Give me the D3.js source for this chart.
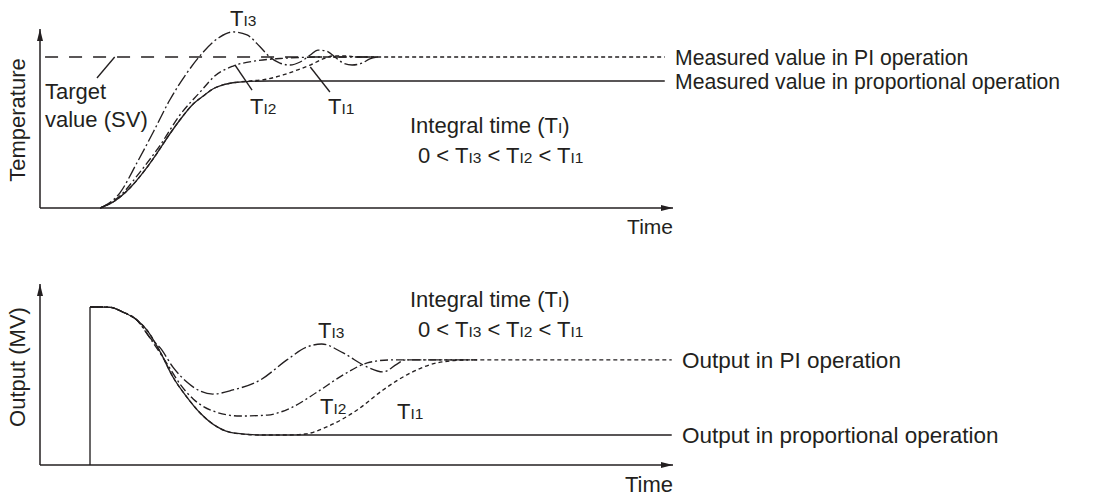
<!DOCTYPE html>
<html><head><meta charset="utf-8">
<script src="https://cdn.jsdelivr.net/npm/d3@7"></script>
<style>
body{margin:0;background:#fff;}
text{font-family:"Liberation Sans",Arial,Helvetica,sans-serif;fill:#231f20;}
</style>
</head><body>
<svg id="c" width="1101" height="497"></svg>
<script>
// ---------------- DATA (time in arbitrary units 0..100) ----------------
const setpoint = 100;            // target value (SV) on temperature scale
const svLineRange = [0.8, 52.9]; // time span of dashed SV line
// Temperature, proportional operation
const tempProp = [[9.5,0],[11.8,4.6],[14.2,13.2],[16.6,25.2],[18.5,36.4],[20.5,49.0],[22.1,58.3],[24.2,68.9],[25.8,74.2],[27.3,78.8],[28.9,81.5],[30.8,83.1],[33.2,83.9],[36.3,84.1],[98.7,84.1]];
// Temperature, PI operation with integral times TI1 > TI2 > TI3
const tempTI1 = [[9.5,0],[11.8,4.6],[14.2,13.2],[16.6,25.2],[18.5,36.4],[20.5,49.0],[22.1,58.3],[24.2,68.9],[25.8,74.2],[27.3,78.8],[28.9,81.5],[30.8,83.1],[33.2,84.1],[35.5,85.1],[38.4,88.1],[41.1,92.1],[42.7,94.7],[44.7,98.7],[46.3,100.7],[48.2,100.7],[50.2,100],[98.7,100]];
const tempTI2 = [[9.5,0],[12.6,7.9],[15.8,23.8],[19.0,41.7],[22.1,61.6],[25.3,76.8],[27.6,87.4],[30.5,94.0],[34.0,97.4],[37.9,99.0],[41.1,99.7],[44.2,100],[53.4,100]];
const tempTI3 = [[9.5,0],[12.6,9.9],[15.3,29.8],[17.9,50.3],[20.5,71.5],[23.2,89.4],[25.8,103.3],[28.4,113.2],[30.5,116.6],[32.7,114.6],[34.8,106.6],[36.3,100],[37.9,96.0],[39.5,94.7],[41.1,96.7],[42.7,101.3],[43.9,104.6],[45.2,104.0],[46.6,100],[47.9,96.0],[49.3,94.7],[50.9,96.0],[52.1,98.7],[53.4,100]];
// Output (MV)
const outStepTime = 7.9;
const outProp = [[7.9,100],[9.5,100],[11.1,99.8],[13.1,96.8],[15.3,91.8],[16.9,85.4],[19.0,71.5],[21.0,55.7],[23.2,43.0],[25.3,32.9],[28.0,24.1],[30.5,20.3],[34.8,19.0],[99.8,19.0]];
const outTI1 = [[7.9,100],[9.5,100],[11.1,99.8],[13.1,96.8],[15.3,91.8],[16.9,85.4],[19.0,71.5],[21.0,55.7],[23.2,43.0],[25.3,32.9],[28.0,24.1],[30.5,20.3],[34.8,19.0],[39.5,19.0],[41.9,19.6],[45.3,24.1],[50.1,34.8],[54.2,47.5],[58.5,58.2],[62.7,64.6],[67.5,66.5],[99.8,66.5]];
const outTI2 = [[7.9,100],[9.5,100],[11.1,99.8],[13.1,96.8],[15.3,91.8],[17.9,77.2],[20.1,63.9],[22.1,51.3],[24.2,41.8],[27.3,34.2],[31.6,31.0],[35.9,31.6],[39.6,36.1],[43.8,46.2],[47.9,57.0],[51.7,64.6],[55.3,66.5],[69.0,66.5]];
const outTI3 = [[7.9,100],[9.5,100],[11.1,99.8],[13.1,96.8],[15.3,91.8],[17.4,80.4],[19.0,74.1],[21.0,62.0],[23.2,52.5],[25.3,46.8],[27.3,44.9],[30.5,47.5],[34.8,53.8],[39.0,66.5],[42.2,74.7],[44.5,76.6],[47.9,70.9],[51.7,62.0],[54.2,58.9],[56.4,63.9],[57.7,66.5],[69.0,66.5]];
// leader lines (data units) for annotations
const leadSV  = [[9.0,86.1],[11.8,100]];
const leadTI2 = [[30.8,94.7],[33.5,78.1]];
const leadTI1 = [[42.7,93.4],[45.8,76.8]];

// ---------------- LAYOUT ----------------
const svg = d3.select("#c");
const ink = "#231f20";
const x = d3.scaleLinear().domain([0,100]).range([40,673]);
const yT = d3.scaleLinear().domain([0,100]).range([208,57]);
const yB = d3.scaleLinear().domain([0,100]).range([465,307]);

const defs = svg.append("defs");
defs.append("marker").attr("id","arr").attr("viewBox","0 0 12 8").attr("refX",12).attr("refY",4)
  .attr("markerWidth",12).attr("markerHeight",8).attr("markerUnits","userSpaceOnUse").attr("orient","auto")
  .append("path").attr("d","M0,1 L12,4 L0,7 Z").attr("fill",ink);

function axes(y, tipY){
  svg.append("line").attr("x1",x(0)).attr("y1",y(0)).attr("x2",x(0)).attr("y2",tipY)
    .attr("stroke",ink).attr("stroke-width",1.5).attr("marker-end","url(#arr)");
  svg.append("line").attr("x1",x(0)).attr("y1",y(0)).attr("x2",x(100)).attr("y2",y(0))
    .attr("stroke",ink).attr("stroke-width",1.5).attr("marker-end","url(#arr)");
}
axes(yT, 29);
axes(yB, 284);

const styles = { ti1: "4,3", ti2: "8,3,2,3", ti3: "13,3,2,3", sv: "13,11" };
function draw(data, y, dash, curve){
  const line = d3.line().x(d=>x(d[0])).y(d=>y(d[1])).curve(curve||d3.curveMonotoneX);
  svg.append("path").datum(data).attr("d",line).attr("fill","none").attr("stroke",ink)
    .attr("stroke-width",1.35).attr("stroke-dasharray",dash);
}
// top chart
draw([[svLineRange[0],setpoint],[svLineRange[1],setpoint]], yT, styles.sv, d3.curveLinear);
draw(tempProp, yT, null);
draw(tempTI1, yT, styles.ti1);
draw(tempTI2, yT, styles.ti2);
draw(tempTI3, yT, styles.ti3);
// bottom chart
draw([[outStepTime,0],[outStepTime,100]], yB, null, d3.curveLinear);
draw(outProp, yB, null);
draw(outTI1, yB, styles.ti1);
draw(outTI2, yB, styles.ti2);
draw(outTI3, yB, styles.ti3);
// leaders
[leadSV, leadTI2, leadTI1].forEach(l=>draw(l, yT, null, d3.curveLinear));

// ---------------- TEXT ----------------
const SUB = 15.5;
function txt(xp, yp, parts, fs, anchor){
  const t = svg.append("text").attr("x",xp).attr("y",yp).attr("font-size",fs).attr("text-anchor",anchor||"start");
  parts.forEach(p=>{
    if (typeof p === "string") t.append("tspan").text(p);
    else t.append("tspan").attr("font-size",SUB).text(p.s);
  });
  return t;
}
const TI = n => ["T",{s:"I"+n}];
// top
txt(230, 26, TI(3), 22);
txt(45, 99, ["Target"], 22);
txt(45, 127, ["value (SV)"], 22);
txt(250, 114, TI(2), 22);
txt(328, 114, TI(1), 22);
txt(410, 133, ["Integral time (T",{s:"I"},")"], 22);
txt(418, 163, ["0 < ",...TI(3)," < ",...TI(2)," < ",...TI(1)], 22);
txt(675, yT(setpoint)+7.5, ["Measured value in PI operation"], 21.2);
txt(675, yT(84.1)+7.5, ["Measured value in proportional operation"], 21.2);
txt(673, 234, ["Time"], 21, "end");
svg.append("text").attr("transform","translate(25,120) rotate(-90)").attr("text-anchor","middle").attr("font-size",22).text("Temperature");
// bottom
txt(318, 338, TI(3), 22);
txt(320, 414, TI(2), 22);
txt(397, 419, TI(1), 22);
txt(410, 307, ["Integral time (T",{s:"I"},")"], 22);
txt(418, 337, ["0 < ",...TI(3)," < ",...TI(2)," < ",...TI(1)], 22);
txt(682, yB(66.5)+7.8, ["Output in PI operation"], 22.5);
txt(682, yB(19.0)+7.8, ["Output in proportional operation"], 22.5);
txt(673, 492, ["Time"], 22, "end");
svg.append("text").attr("transform","translate(25,367) rotate(-90)").attr("text-anchor","middle").attr("font-size",22).text("Output (MV)");
</script>
</body></html>
